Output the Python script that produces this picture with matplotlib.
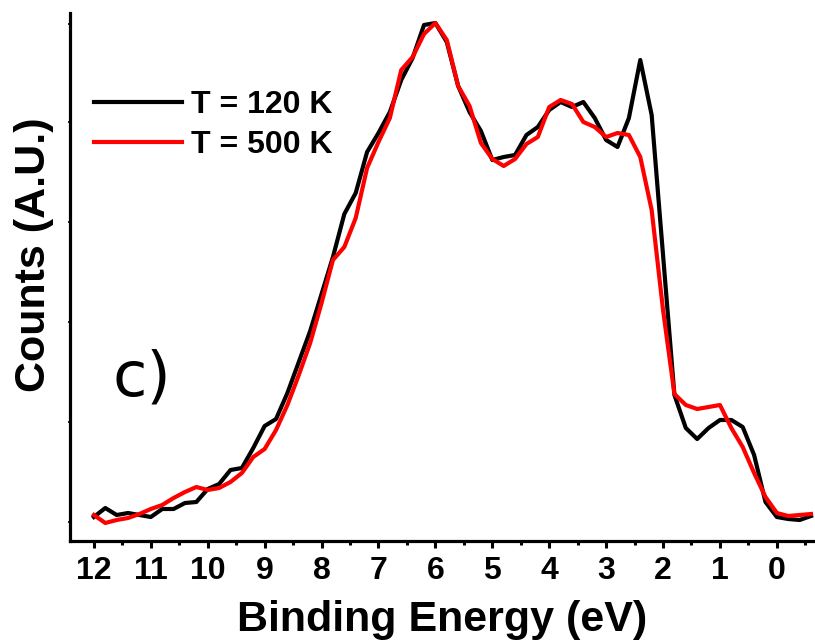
import numpy as np
import matplotlib
matplotlib.use("Agg")
import matplotlib.pyplot as plt
from matplotlib.ticker import MultipleLocator

plt.rcParams['font.family'] = ['Liberation Sans', 'DejaVu Sans']

# binding energy grid (eV), 0.2 eV steps from 12 down to -0.6
energy = [12.0, 11.8, 11.6, 11.4, 11.2, 11.0, 10.8, 10.6, 10.4, 10.2,
          10.0, 9.8, 9.6, 9.4, 9.2, 9.0, 8.8, 8.6, 8.4, 8.2,
          8.0, 7.8, 7.6, 7.4, 7.2, 7.0, 6.8, 6.6, 6.4, 6.2,
          6.0, 5.8, 5.6, 5.4, 5.2, 5.0, 4.8, 4.6, 4.4, 4.2,
          4.0, 3.8, 3.6, 3.4, 3.2, 3.0, 2.8, 2.6, 2.4, 2.2,
          2.0, 1.8, 1.6, 1.4, 1.2, 1.0, 0.8, 0.6, 0.4, 0.2,
          0.0, -0.2, -0.4, -0.6]

# counts (arbitrary units)
counts_120 = [24, 33, 26, 28, 26, 24, 32, 32, 38, 39,
              52, 57, 71, 73, 93, 115, 122, 148, 179, 210,
              247, 284, 327, 348, 389, 408, 429, 461, 483, 516,
              518, 499, 455, 429, 410, 381, 384, 386, 406, 414,
              431, 439, 434, 439, 423, 401, 394, 423, 481, 426,
              286, 146, 113, 102, 113, 121, 121, 114, 86, 39,
              24, 22, 21, 25]

counts_500 = [26, 18, 21, 23, 27, 32, 36, 43, 49, 54,
              51, 53, 59, 68, 84, 92, 111, 136, 166, 198,
              238, 281, 294, 323, 373, 399, 423, 471, 484, 507,
              518, 501, 455, 435, 398, 382, 375, 382, 397, 404,
              434, 441, 437, 419, 414, 404, 408, 406, 384, 331,
              231, 147, 136, 132, 134, 136, 113, 94, 68, 44,
              28, 25, 26, 27]

ytick_pos = [19, 119, 219, 319, 419, 517]

fig = plt.figure(figsize=(8.15, 6.44), dpi=100)
ax = fig.add_axes([70 / 815, 103 / 644, 745 / 815, 528 / 644])

ax.plot(energy, counts_120, color='black', lw=3.0, label='T = 120 K', zorder=3)
ax.plot(energy, counts_500, color='#ff0000', lw=3.0, label='T = 500 K', zorder=4)

ax.set_xlim(12.42, -0.67)
ax.set_ylim(0, 528)

ax.spines['top'].set_visible(False)
ax.spines['right'].set_visible(False)
for s in ['left', 'bottom']:
    ax.spines[s].set_linewidth(2.3)

ax.xaxis.set_major_locator(MultipleLocator(1))
ax.xaxis.set_minor_locator(MultipleLocator(0.5))
ax.tick_params(axis='x', which='major', direction='out', length=5, width=2.2,
               labelsize=23, pad=6)
ax.tick_params(axis='x', which='minor', direction='out', length=3, width=2.2)
for lab in ax.get_xticklabels():
    lab.set_fontweight('bold')

ax.set_yticks(ytick_pos)
ax.set_yticklabels([])
ax.tick_params(axis='y', direction='out', length=1.2, width=1.2)

ax.set_xlabel('Binding Energy (eV)', fontsize=31, fontweight='bold', labelpad=10)
ax.set_ylabel('Counts (A.U.)', fontsize=31, fontweight='bold')
ax.yaxis.set_label_coords(-16 / 745, (541 - 255) / 528)

# panel label, positioned in pixels
ax.text(112, 644 - 378, 'c)', transform=None, fontsize=45, family='DejaVu Sans',
        va='center', ha='left')

leg = ax.legend(loc='upper left', bbox_to_anchor=(11 / 745, 1 - 64 / 528),
                frameon=False, prop={'weight': 'bold', 'size': 23},
                handlelength=2.75, handletextpad=0.28, labelspacing=0.32,
                borderaxespad=0)

fig.savefig('out.png', dpi=100)
